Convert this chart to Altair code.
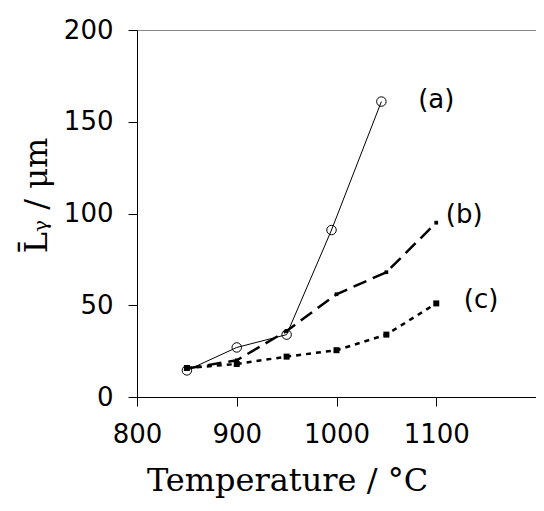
import pandas as pd
import altair as alt

# temperature (°C) and mean grain size (µm) per series
temp_a = [850, 900, 950, 995, 1045]
size_a = [14.5, 27, 34, 91, 161]
temp_b = [850, 900, 950, 1000, 1050, 1100]
size_b = [15.5, 20, 36, 56, 68, 95]
temp_c = [850, 900, 950, 1000, 1050, 1100]
size_c = [15.8, 18, 22, 25.5, 34, 51]

# series labels and where they sit
lab_text = ['(a)', '(b)', '(c)']
lab_temp = [1100, 1128, 1145]
lab_size = [162, 99, 53]

xticks = [800, 900, 1000, 1100, 1200]
yticks = [0, 50, 100, 150, 200]

df_a = pd.DataFrame({'temp': temp_a, 'size': size_a})
df_b = pd.DataFrame({'temp': temp_b, 'size': size_b})
df_c = pd.DataFrame({'temp': temp_c, 'size': size_c})
df_lab = pd.DataFrame({'label': lab_text, 'temp': lab_temp, 'size': lab_size})

xenc = alt.X('temp:Q', title='Temperature / °C',
             scale=alt.Scale(domain=[800, 1200], nice=False),
             axis=alt.Axis(values=xticks, format='d',
                           labelExpr="datum.value == 1200 ? '' : datum.label",
                           titleX=150, titleAnchor='middle'))
yenc = alt.Y('size:Q', title='L̄ᵧ / μm',
             scale=alt.Scale(domain=[0, 200], nice=False),
             axis=alt.Axis(values=yticks, titleY=165, titleAlign='center'))

line_a = alt.Chart(df_a).mark_line(color='black', strokeWidth=1, point=alt.OverlayMarkDef(
    shape='circle', filled=False, color='black', size=90, strokeWidth=1)).encode(x=xenc, y=yenc)

line_b = alt.Chart(df_b).mark_line(color='black', strokeWidth=2.5, strokeDash=[14, 7], point=alt.OverlayMarkDef(
    shape='square', filled=True, color='black', size=14)).encode(x=xenc, y=yenc)

line_c = alt.Chart(df_c).mark_line(color='black', strokeWidth=2.5, strokeDash=[5, 5], point=alt.OverlayMarkDef(
    shape='square', filled=True, color='black', size=36)).encode(x=xenc, y=yenc)

labels = alt.Chart(df_lab).mark_text(font='DejaVu Sans', fontSize=26, color='black').encode(
    x=xenc, y=yenc, text='label:N')

chart = (line_a + line_b + line_c + labels).properties(
    width=399, height=367,
    autosize=alt.AutoSizeParams(type='none'),
    padding={'left': 129, 'top': 22, 'right': 0, 'bottom': 114},
).configure_view(
    stroke='#888888', strokeWidth=1
).configure_axis(
    grid=False,
    domainColor='black',
    tickColor='black',
    tickSize=9,
    labelFont='DejaVu Sans',
    labelFontSize=26,
    labelColor='black',
    labelPadding=15,
    labelFlush=False,
    titleFont='DejaVu Serif',
    titleFontSize=32,
    titleFontWeight='normal',
    titleColor='black',
).configure_axisX(
    titlePadding=18,
).configure_axisY(
    titlePadding=10,
)

chart.save('out.html', embed_options={'renderer': 'svg', 'actions': False})
